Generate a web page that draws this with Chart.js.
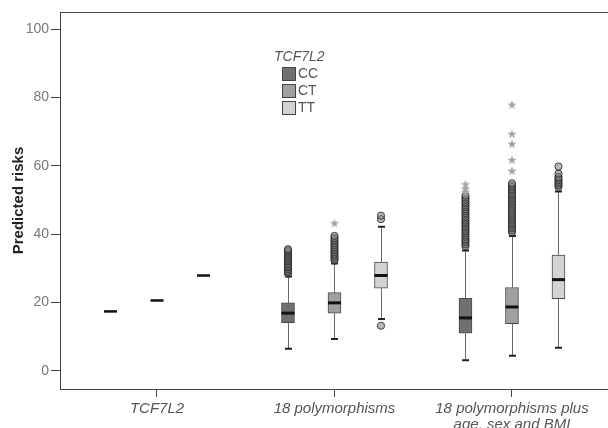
<!DOCTYPE html>
<html>
<head>
<meta charset="utf-8">
<script src="https://cdn.jsdelivr.net/npm/chart.js@4.4.0/dist/chart.umd.min.js"></script>
<style>
  html, body { margin: 0; padding: 0; background: #fff; }
  #wrap { width: 608px; height: 428px; }
</style>
</head>
<body>
<div id="wrap"><canvas id="riskChart"></canvas></div>
<script>
// models on the x axis (tick labels) and their positions
const models = [['TCF7L2'], ['18 polymorphisms'], ['18 polymorphisms plus', 'age, sex and BMI']];
const modelPos = [1, 2, 3];
const yTicks = [0, 20, 40, 60, 80, 100];

// genotypes of TCF7L2
const genotypes = ['CC', 'CT', 'TT'];
const genotypeOffset = [-0.262, 0, 0.262];
const genotypeColors = ['#707070', '#a0a0a0', '#d3d3d3'];

// box stats, one value per model
const ccLow = [17.4, 6.5, 3.1];
const ccQ1 = [17.4, 14.1, 11.0];
const ccMed = [17.4, 16.9, 15.5];
const ccQ3 = [17.4, 19.9, 21.2];
const ccHigh = [17.4, 27.6, 35.2];

const ctLow = [20.6, 9.3, 4.4];
const ctQ1 = [20.6, 16.9, 13.8];
const ctMed = [20.6, 19.9, 18.7];
const ctQ3 = [20.6, 22.9, 24.4];
const ctHigh = [20.6, 31.4, 39.5];

const ttLow = [27.9, 15.2, 6.8];
const ttQ1 = [27.9, 24.2, 21.1];
const ttMed = [27.9, 27.9, 26.7];
const ttQ3 = [27.9, 31.8, 33.9];
const ttHigh = [27.9, 42.2, 52.5];

// outliers (circles) and extreme values (stars), per model
const ccOutliers = [[], [28.4, 28.9, 29.3, 29.8, 30.3, 30.7, 31.2, 31.6, 32.1, 32.5, 33.0, 33.4, 33.9, 34.4, 34.8, 35.2, 35.6],
  [36.5, 37.0, 37.6, 38.1, 38.6, 39.2, 39.7, 40.3, 40.8, 41.3, 41.9, 42.4, 43.0, 43.5, 44.0, 44.6, 45.1, 45.7, 46.2, 46.8, 47.3, 47.9, 48.4, 49.0, 49.5, 50.1, 50.7, 51.3]];
const ccStars = [[], [], [52.4, 53.3, 54.6]];
const ctOutliers = [[], [32.3, 32.8, 33.3, 33.8, 34.3, 34.8, 35.3, 35.8, 36.3, 36.8, 37.3, 37.9, 38.4, 38.9, 39.5],
  [40.6, 41.1, 41.7, 42.2, 42.8, 43.3, 43.9, 44.4, 45.0, 45.5, 46.1, 46.6, 47.2, 47.7, 48.3, 48.8, 49.4, 49.9, 50.5, 51.0, 51.6, 52.1, 52.7, 53.2, 53.8, 54.3, 54.9]];
const ctStars = [[], [43.2], [58.5, 61.7, 66.4, 69.3, 77.9]];
const ttOutliers = [[], [13.2, 44.4, 45.4], [53.8, 54.3, 54.8, 55.3, 55.8, 56.3, 56.8, 57.7, 59.8]];
const ttStars = [[], [], []];

const stats = [
  { low: ccLow, q1: ccQ1, med: ccMed, q3: ccQ3, high: ccHigh, out: ccOutliers, stars: ccStars },
  { low: ctLow, q1: ctQ1, med: ctMed, q3: ctQ3, high: ctHigh, out: ctOutliers, stars: ctStars },
  { low: ttLow, q1: ttQ1, med: ttMed, q3: ttQ3, high: ttHigh, out: ttOutliers, stars: ttStars }
];

const FONT = 'Arial, "Liberation Sans", sans-serif';

// small five-point star used for extreme values
function makeStar() {
  const c = document.createElement('canvas');
  c.width = 10; c.height = 10;
  const g = c.getContext('2d');
  g.fillStyle = '#a4a4a4';
  g.beginPath();
  for (let k = 0; k < 10; k++) {
    const r = k % 2 === 0 ? 4.8 : 2.0;
    const a = -Math.PI / 2 + k * Math.PI / 5;
    const px = 5 + r * Math.cos(a), py = 5.3 + r * Math.sin(a);
    if (k === 0) g.moveTo(px, py); else g.lineTo(px, py);
  }
  g.closePath();
  g.fill();
  return c;
}
const starImg = makeStar();

function points(key) {
  const pts = [];
  stats.forEach((s, g) => {
    s[key].forEach((vals, i) => {
      vals.forEach(v => pts.push({ x: modelPos[i] + genotypeOffset[g], y: v }));
    });
  });
  return pts;
}

const boxDatasets = stats.map((s, g) => ({
  type: 'bar',
  label: genotypes[g],
  data: modelPos.map((m, i) => ({ x: m + genotypeOffset[g], y: [s.q1[i], s.q3[i]] }))
    .filter((d, i) => s.q1[i] !== s.q3[i]),
  backgroundColor: genotypeColors[g],
  borderColor: '#4a4a4a',
  borderWidth: 1,
  borderSkipped: false,
  barThickness: 13,
  grouped: false,
  order: 3
}));

const boxParts = {
  id: 'boxParts',
  beforeDatasetsDraw(chart) {
    const { ctx, scales: { x, y } } = chart;
    ctx.save();
    stats.forEach((s, g) => {
      modelPos.forEach((m, i) => {
        if (s.low[i] === s.high[i]) return;
        const px = Math.round(x.getPixelForValue(m + genotypeOffset[g])) + 0.5;
        ctx.strokeStyle = '#6a6a6a';
        ctx.lineWidth = 1;
        ctx.beginPath();
        ctx.moveTo(px, y.getPixelForValue(s.low[i]));
        ctx.lineTo(px, y.getPixelForValue(s.q1[i]));
        ctx.moveTo(px, y.getPixelForValue(s.q3[i]));
        ctx.lineTo(px, y.getPixelForValue(s.high[i]));
        ctx.stroke();
        ctx.strokeStyle = '#222';
        ctx.lineWidth = 2;
        ctx.beginPath();
        [s.low[i], s.high[i]].forEach(v => {
          const py = y.getPixelForValue(v);
          ctx.moveTo(px - 3.5, py);
          ctx.lineTo(px + 3.5, py);
        });
        ctx.stroke();
      });
    });
    ctx.restore();
  },
  afterDatasetsDraw(chart) {
    const { ctx, scales: { x, y } } = chart;
    ctx.save();
    ctx.strokeStyle = '#111';
    stats.forEach((s, g) => {
      modelPos.forEach((m, i) => {
        const px = x.getPixelForValue(m + genotypeOffset[g]);
        const py = y.getPixelForValue(s.med[i]);
        ctx.lineWidth = s.q1[i] === s.q3[i] ? 2.5 : 3;
        ctx.beginPath();
        ctx.moveTo(px - 6.5, py);
        ctx.lineTo(px + 6.5, py);
        ctx.stroke();
      });
    });
    ctx.restore();
  },
  afterDraw(chart) {
    const { ctx, chartArea } = chart;
    ctx.save();
    // top frame line
    ctx.strokeStyle = '#444';
    ctx.lineWidth = 1;
    ctx.beginPath();
    ctx.moveTo(chartArea.left, chartArea.top + 0.5);
    ctx.lineTo(chartArea.right, chartArea.top + 0.5);
    ctx.stroke();
    // legend
    ctx.fillStyle = '#555';
    ctx.font = 'italic 14px ' + FONT;
    ctx.textBaseline = 'middle';
    ctx.textAlign = 'left';
    ctx.fillText('TCF7L2', 274, 57);
    ctx.font = '14px ' + FONT;
    genotypes.forEach((gt, g) => {
      const top = 67 + g * 17;
      ctx.fillStyle = genotypeColors[g];
      ctx.fillRect(282.5, top + 0.5, 13, 13);
      ctx.strokeStyle = '#444';
      ctx.strokeRect(282.5, top + 0.5, 13, 13);
      ctx.fillStyle = '#555';
      ctx.fillText(gt, 298, top + 7.5);
    });
    ctx.restore();
  }
};

new Chart(document.getElementById('riskChart'), {
  type: 'bar',
  data: {
    datasets: [
      {
        type: 'scatter',
        label: 'extremes',
        data: points('stars'),
        pointStyle: starImg,
        order: 1
      },
      {
        type: 'scatter',
        label: 'outliers',
        data: points('out'),
        pointStyle: 'circle',
        radius: 3.6,
        borderWidth: 1,
        borderColor: 'rgba(40,40,40,0.85)',
        backgroundColor: 'rgba(130,130,130,0.55)',
        order: 2
      },
      ...boxDatasets
    ]
  },
  options: {
    responsive: true,
    maintainAspectRatio: false,
    animation: false,
    layout: { autoPadding: false, padding: { top: 12, left: 0, right: 0, bottom: 0 } },
    plugins: {
      legend: { display: false },
      tooltip: { enabled: false }
    },
    scales: {
      x: {
        type: 'linear',
        offset: false,
        min: 0.4535,
        max: 3.541,
        afterBuildTicks: scale => { scale.ticks = modelPos.map(v => ({ value: v })); },
        afterFit: scale => { scale.height = 39; },
        grid: { offset: false, drawOnChartArea: false, drawTicks: true, tickLength: 8, color: '#444' },
        border: { display: true, color: '#444', width: 1 },
        ticks: {
          padding: 4,
          maxRotation: 0,
          autoSkip: false,
          color: '#555',
          font: { family: FONT, size: 15, style: 'italic', lineHeight: 1.05 },
          callback: v => models[modelPos.indexOf(v)]
        }
      },
      y: {
        min: -5.3,
        max: 105,
        afterBuildTicks: scale => { scale.ticks = yTicks.map(v => ({ value: v })); },
        afterFit: scale => { scale.width = 60; },
        grid: { drawOnChartArea: false, drawTicks: true, tickLength: 9, color: '#444' },
        border: { display: true, color: '#444', width: 1 },
        ticks: {
          padding: 2,
          color: '#777',
          font: { family: FONT, size: 14 }
        },
        title: {
          display: true,
          text: 'Predicted risks',
          color: '#222',
          padding: { top: 10, bottom: 0 },
          font: { family: FONT, size: 15, weight: 'bold' }
        }
      }
    }
  },
  plugins: [boxParts]
});
</script>
</body>
</html>
